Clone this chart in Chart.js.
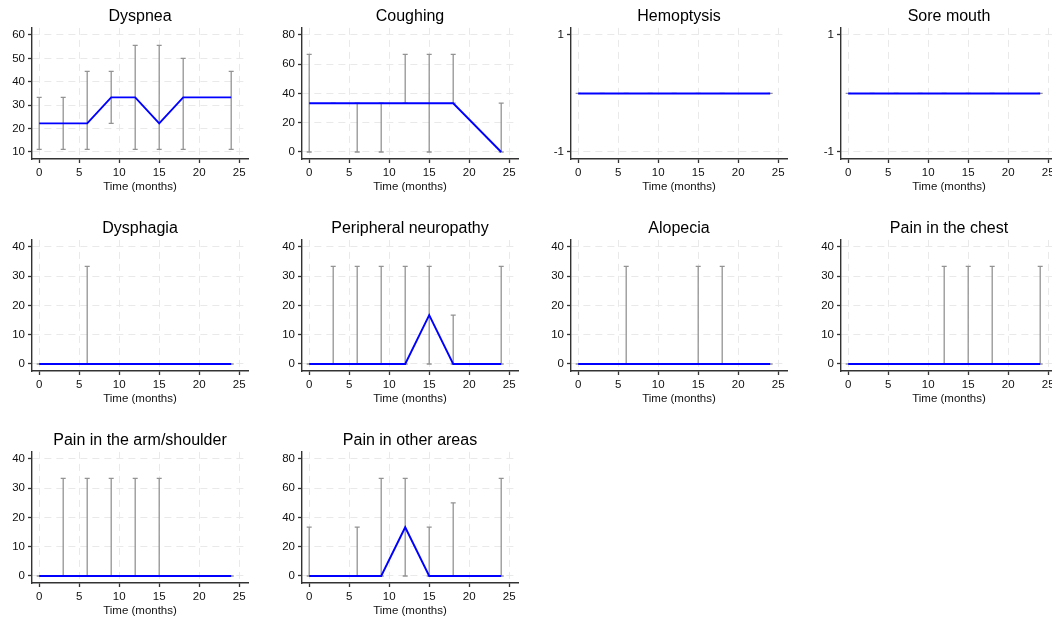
<!DOCTYPE html>
<html>
<head>
<meta charset="utf-8">
<script src="https://cdn.jsdelivr.net/npm/chart.js@4.4.1/dist/chart.umd.min.js"></script>
<style>
  body { margin: 0; background: #fff; width: 1052px; height: 617px; overflow: hidden; position: relative; }
  canvas { position: absolute; }
</style>
</head>
<body>
<script>
// time points (months) shared by every panel
const months = [0, 3, 6, 9, 12, 15, 18, 24];
const xTicks = [0, 5, 10, 15, 20, 25];

const titles = ['Dyspnea', 'Coughing', 'Hemoptysis', 'Sore mouth', 'Dysphagia',
  'Peripheral neuropathy', 'Alopecia', 'Pain in the chest', 'Pain in the arm/shoulder', 'Pain in other areas'];

// y tick labels per panel
const ticksDyspnea = [10, 20, 30, 40, 50, 60];
const ticks0to80 = [0, 20, 40, 60, 80];
const ticksFlat = [-1, 1];
const ticks0to40 = [0, 10, 20, 30, 40];

// means
const dyspneaMean = [22.22, 22.22, 22.22, 33.33, 33.33, 22.22, 33.33, 33.33];
const coughingMean = [33.33, 33.33, 33.33, 33.33, 33.33, 33.33, 33.33, 0];
const hemoptysisMean = [0, 0, 0, 0, 0, 0, 0, 0];
const soreMouthMean = [0, 0, 0, 0, 0, 0, 0, 0];
const dysphagiaMean = [0, 0, 0, 0, 0, 0, 0, 0];
const neuropathyMean = [0, 0, 0, 0, 0, 16.67, 0, 0];
const alopeciaMean = [0, 0, 0, 0, 0, 0, 0, 0];
const chestMean = [0, 0, 0, 0, 0, 0, 0, 0];
const armMean = [0, 0, 0, 0, 0, 0, 0, 0];
const otherMean = [0, 0, 0, 0, 33.33, 0, 0, 0];

// lower / upper error bar ends
const dyspneaLo = [11.11, 11.11, 11.11, 22.22, 11.11, 11.11, 11.11, 11.11];
const dyspneaHi = [33.33, 33.33, 44.44, 44.44, 55.56, 55.56, 50, 44.44];
const coughingLo = [0, 33.33, 0, 0, 33.33, 0, 33.33, 0];
const coughingHi = [66.67, 33.33, 33.33, 33.33, 66.67, 66.67, 66.67, 33.33];
const hemoptysisLo = [0, 0, 0, 0, 0, 0, 0, 0];
const hemoptysisHi = [0, 0, 0, 0, 0, 0, 0, 0];
const soreMouthLo = [0, 0, 0, 0, 0, 0, 0, 0];
const soreMouthHi = [0, 0, 0, 0, 0, 0, 0, 0];
const dysphagiaLo = [0, 0, 0, 0, 0, 0, 0, 0];
const dysphagiaHi = [0, 0, 33.33, 0, 0, 0, 0, 0];
const neuropathyLo = [0, 0, 0, 0, 0, 0, 0, 0];
const neuropathyHi = [0, 33.33, 33.33, 33.33, 33.33, 33.33, 16.67, 33.33];
const alopeciaLo = [0, 0, 0, 0, 0, 0, 0, 0];
const alopeciaHi = [0, 0, 33.33, 0, 0, 33.33, 33.33, 0];
const chestLo = [0, 0, 0, 0, 0, 0, 0, 0];
const chestHi = [0, 0, 0, 0, 33.33, 33.33, 33.33, 33.33];
const armLo = [0, 0, 0, 0, 0, 0, 0, 0];
const armHi = [0, 33.33, 33.33, 33.33, 33.33, 33.33, 0, 0];
const otherLo = [0, 0, 0, 0, 0, 0, 0, 0];
const otherHi = [33.33, 0, 33.33, 66.67, 66.67, 33.33, 50, 66.67];

const panels = [
  { mean: dyspneaMean, lo: dyspneaLo, hi: dyspneaHi, yTicks: ticksDyspnea },
  { mean: coughingMean, lo: coughingLo, hi: coughingHi, yTicks: ticks0to80 },
  { mean: hemoptysisMean, lo: hemoptysisLo, hi: hemoptysisHi, yTicks: ticksFlat },
  { mean: soreMouthMean, lo: soreMouthLo, hi: soreMouthHi, yTicks: ticksFlat },
  { mean: dysphagiaMean, lo: dysphagiaLo, hi: dysphagiaHi, yTicks: ticks0to40 },
  { mean: neuropathyMean, lo: neuropathyLo, hi: neuropathyHi, yTicks: ticks0to40 },
  { mean: alopeciaMean, lo: alopeciaLo, hi: alopeciaHi, yTicks: ticks0to40 },
  { mean: chestMean, lo: chestLo, hi: chestHi, yTicks: ticks0to40 },
  { mean: armMean, lo: armLo, hi: armHi, yTicks: ticks0to40 },
  { mean: otherMean, lo: otherLo, hi: otherHi, yTicks: ticks0to80 }
];

Chart.defaults.font.family = '"Liberation Sans", Arial, sans-serif';
Chart.defaults.color = '#111';

const colLeft = [1, 271, 540, 810];
const rowTop = [0, 212, 424];

// gray whiskers with small caps, drawn under the blue line
function errorBars(p) {
  return {
    id: 'errorBars',
    beforeDatasetsDraw(chart) {
      const { ctx, scales: { x, y } } = chart;
      ctx.save();
      ctx.strokeStyle = '#939393';
      ctx.lineWidth = 1.3;
      months.forEach((m, i) => {
        const px = x.getPixelForValue(m);
        const y1 = y.getPixelForValue(p.lo[i]);
        const y2 = y.getPixelForValue(p.hi[i]);
        ctx.beginPath();
        ctx.moveTo(px, y1); ctx.lineTo(px, y2);
        ctx.moveTo(px - 2.5, y1); ctx.lineTo(px + 2.5, y1);
        ctx.moveTo(px - 2.5, y2); ctx.lineTo(px + 2.5, y2);
        ctx.stroke();
      });
      ctx.restore();
    }
  };
}

panels.forEach((p, k) => {
  const canvas = document.createElement('canvas');
  canvas.width = 270;
  canvas.height = 212;
  canvas.style.left = colLeft[k % 4] + 'px';
  canvas.style.top = rowTop[Math.floor(k / 4)] + 'px';
  document.body.appendChild(canvas);

  const t0 = p.yTicks[0], t1 = p.yTicks[p.yTicks.length - 1];
  const pad = (t1 - t0) * 0.06;

  new Chart(canvas, {
    type: 'line',
    data: {
      datasets: [{
        data: months.map((m, i) => ({ x: m, y: p.mean[i] })),
        borderColor: '#0000ff',
        borderWidth: 1.9,
        pointRadius: 0,
        tension: 0,
        fill: false
      }]
    },
    options: {
      responsive: false,
      animation: false,
      layout: { padding: { left: 0, right: 23, top: 0, bottom: 0 } },
      plugins: {
        legend: { display: false },
        tooltip: { enabled: false },
        title: {
          display: true,
          text: titles[k],
          fullSize: false,
          color: '#000',
          font: { size: 16, weight: 'normal' },
          padding: { top: 7.2, bottom: 1.5 }
        }
      },
      scales: {
        x: {
          type: 'linear',
          min: -0.9,
          max: 26.1,
          afterBuildTicks: axis => { axis.ticks = xTicks.map(v => ({ value: v })); },
          afterFit: axis => {
            axis.height = 53;
            axis.paddingLeft = 0; axis.paddingRight = 0;
          },
          ticks: { font: { size: 11.5 }, padding: 3, maxRotation: 0, autoSkip: false },
          grid: { color: '#e9e9e9', tickColor: '#333', tickLength: 4, lineWidth: 1, tickWidth: 1.3 },
          border: { color: '#333', width: 1.4, dash: [7, 5] },
          title: {
            display: true,
            text: 'Time (months)',
            color: '#111',
            font: { size: 11.5 },
            padding: { top: 0, bottom: 18.5 }
          }
        },
        y: {
          type: 'linear',
          min: t0 - pad,
          max: t1 + pad,
          afterBuildTicks: axis => { axis.ticks = p.yTicks.map(v => ({ value: v })); },
          afterFit: axis => {
            axis.width = 31;
            axis.paddingTop = 0; axis.paddingBottom = 0;
          },
          ticks: { font: { size: 11.5 }, padding: 3, autoSkip: false },
          grid: { color: '#e9e9e9', tickColor: '#333', tickLength: 4, lineWidth: 1, tickWidth: 1.3 },
          border: { color: '#333', width: 1.4, dash: [7, 5] }
        }
      }
    },
    plugins: [errorBars(p)]
  });
});
</script>
</body>
</html>
